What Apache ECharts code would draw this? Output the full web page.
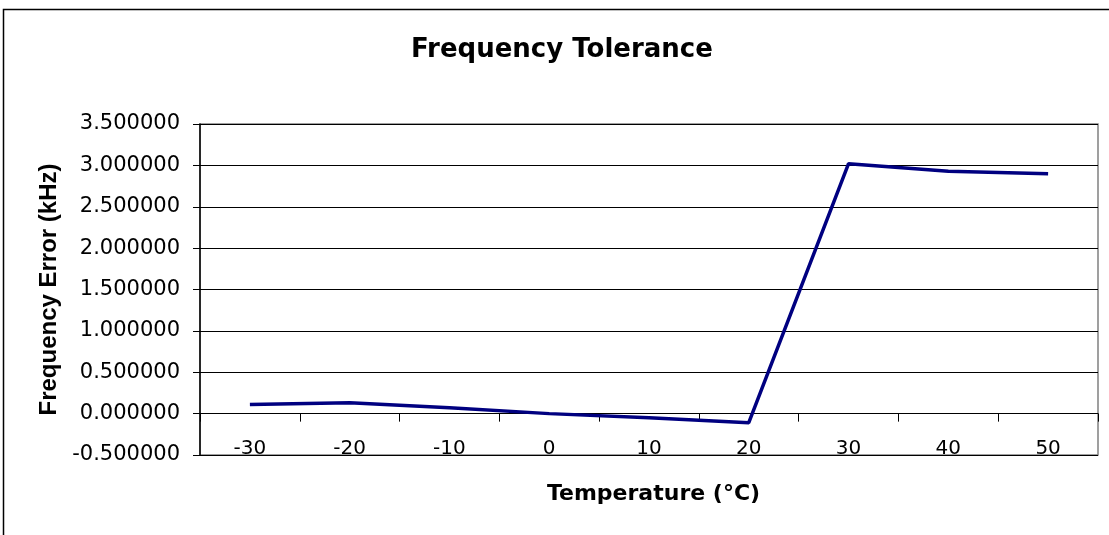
<!DOCTYPE html>
<html>
<head>
<meta charset="utf-8">
<script src="https://cdn.jsdelivr.net/npm/echarts@6/dist/echarts.min.js"></script>
<style>
html,body{margin:0;padding:0;background:#fff;}
#chart{width:1109px;height:535px;}
</style>
</head>
<body>
<div id="chart"></div>
<script>
const categories = ['-30', '-20', '-10', '0', '10', '20', '30', '40', '50'];
const freqError = [0.11, 0.13, 0.07, 0.00, -0.05, -0.11, 3.02, 2.93, 2.90];
const yTickDecimals = 6;
const titleText = 'Frequency Tolerance';
const xName = 'Temperature (°C)';
const yName = 'Frequency Error (kHz)';

const WIDE = '"DejaVu Sans", Verdana, sans-serif';
const ARIAL = '"Liberation Sans", Arial, sans-serif';
const chart = echarts.init(document.getElementById('chart'));
chart.setOption({
  animation: false,
  backgroundColor: '#fff',
  title: {
    text: titleText, left: 406, top: 32,
    textStyle: { fontFamily: WIDE, fontSize: 26, fontWeight: 'bold', color: '#000' }
  },
  graphic: [{
    type: 'rect', shape: { x: 3.5, y: 9.5, width: 1300, height: 700 },
    style: { fill: 'none', stroke: '#000', lineWidth: 1.5 }, silent: true
  }],
  grid: {
    left: 200, right: 11, top: 124, bottom: 80,
    show: true, borderColor: '#808080', borderWidth: 1.5, backgroundColor: '#fff'
  },
  xAxis: [{
    type: 'category', data: categories, position: 'bottom',
    axisLine: { show: false, onZero: false },
    axisTick: { show: false },
    axisLabel: { fontFamily: WIDE, fontSize: 20, color: '#000', margin: 4, verticalAlign: 'bottom' },
    name: xName, nameLocation: 'middle', nameGap: 28,
    nameTextStyle: { fontFamily: WIDE, fontSize: 22, fontWeight: 'bold', color: '#000', padding: [0, 0, 0, 9] }
  }, {
    type: 'category', data: categories, position: 'top',
    axisLine: { show: true, onZero: true, lineStyle: { color: '#000', width: 1 } },
    axisTick: { show: true, inside: true, length: 8, lineStyle: { color: '#000' } },
    axisLabel: { show: false }
  }],
  yAxis: {
    type: 'value', min: -0.5, max: 3.5, interval: 0.5,
    axisLine: { show: true, lineStyle: { color: '#000', width: 1.5 } },
    axisTick: { show: true, length: 7, lineStyle: { color: '#000' } },
    splitLine: { show: true, lineStyle: { color: '#000', width: 1 } },
    axisLabel: { fontFamily: WIDE, fontSize: 21, color: '#000', margin: 20,
      formatter: v => v.toFixed(yTickDecimals) },
    name: yName, nameLocation: 'middle', nameGap: 137,
    nameTextStyle: { fontFamily: ARIAL, fontSize: 24, fontWeight: 'bold', color: '#000' }
  },
  series: [{
    type: 'line', data: freqError, xAxisIndex: 0,
    symbol: 'none', lineStyle: { color: '#000080', width: 3.5 }
  }]
});
</script>
</body>
</html>
